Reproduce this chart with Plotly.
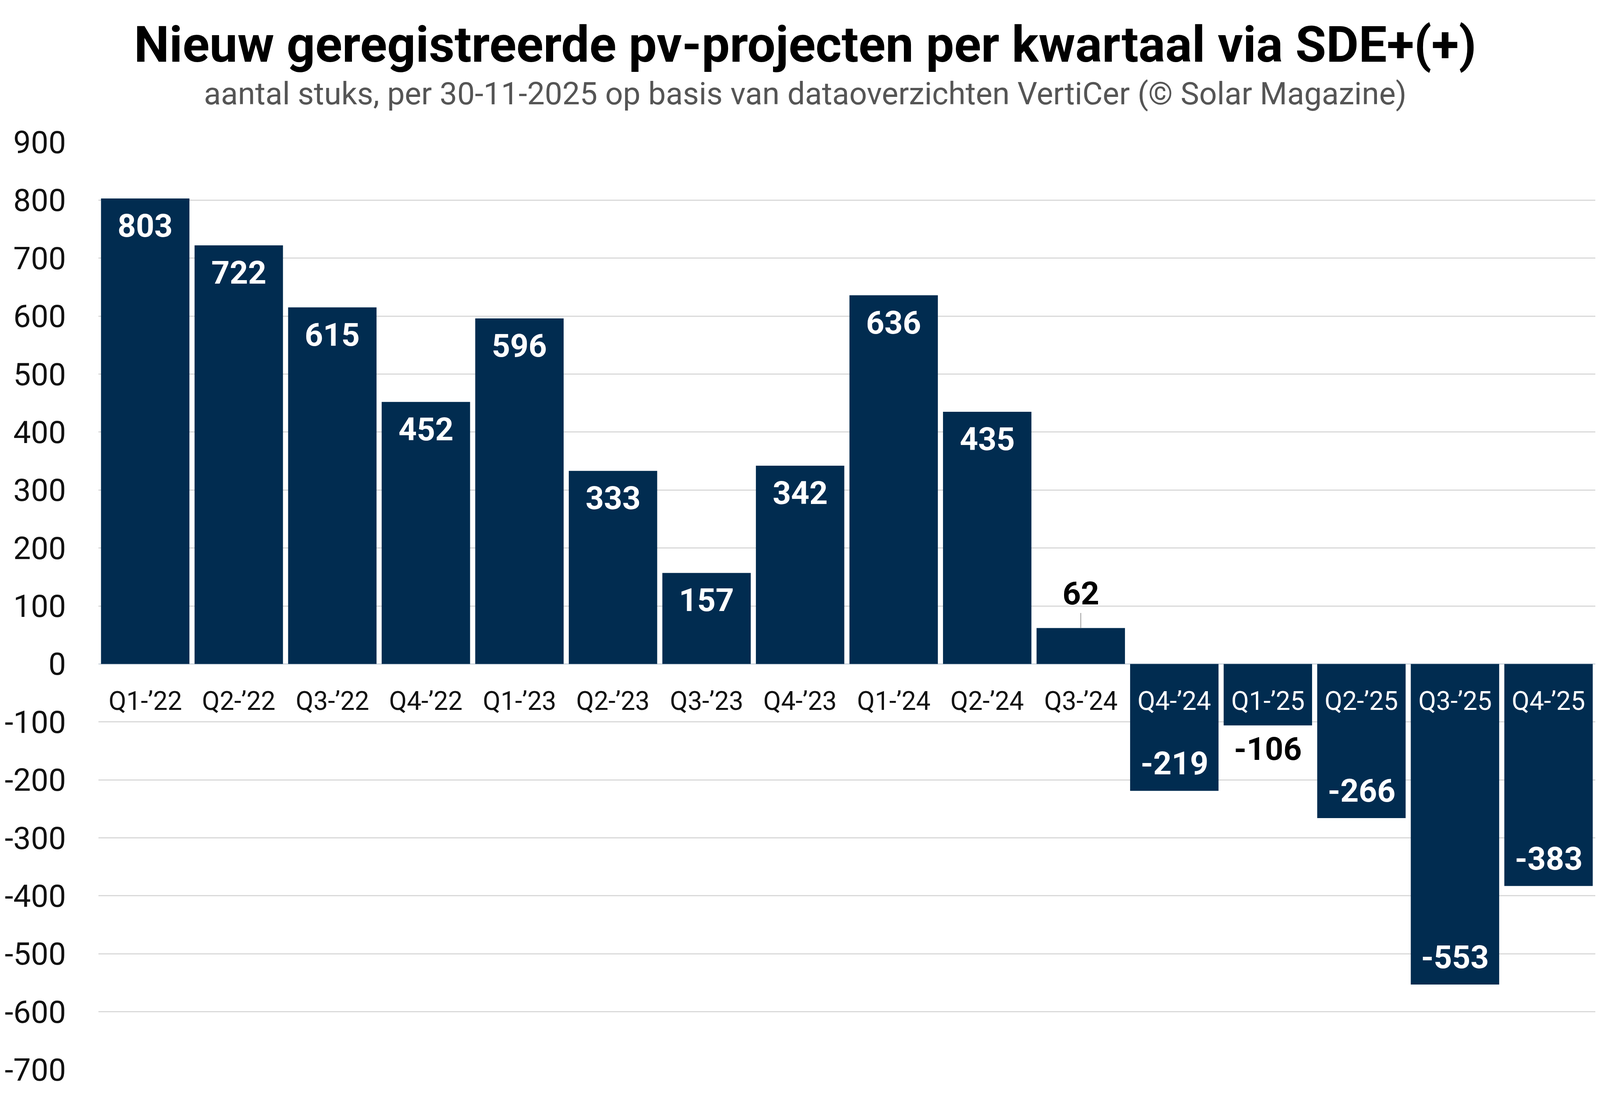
import plotly.graph_objects as go

categories = ["Q1-’22", "Q2-’22", "Q3-’22", "Q4-’22", "Q1-’23", "Q2-’23", "Q3-’23", "Q4-’23",
              "Q1-’24", "Q2-’24", "Q3-’24", "Q4-’24", "Q1-’25", "Q2-’25", "Q3-’25", "Q4-’25"]
values = [803, 722, 615, 452, 596, 333, 157, 342, 636, 435, 62, -219, -106, -266, -553, -383]
y_ticks = [900, 800, 700, 600, 500, 400, 300, 200, 100, 0, -100, -200, -300, -400, -500, -600, -700]

title = "Nieuw geregistreerde pv-projecten per kwartaal via SDE+(+)"
subtitle = "aantal stuks, per 30-11-2025 op basis van dataoverzichten VertiCer (© Solar Magazine)"

# the browser viewport is capped at 4096 px wide; lay the chart out to fill it
W, H = 4096, 2813
KX = W / 4962.0
M_L, M_R, M_T, M_B = round(275 * KX), round(15 * KX), 364, 75
PLOT_W = W - M_L - M_R
PLOT_H = H - M_T - M_B
BAR = "#012c50"
FONT = "Roboto"


def paper_y(px_from_top):
    return 1 + (M_T - px_from_top) / PLOT_H


def paper_x(px_from_left):
    return (px_from_left - M_L) / PLOT_W


fig = go.Figure(go.Bar(x=categories, y=values, marker=dict(color=BAR, line=dict(width=0)),
                       hoverinfo="x+y"))

annotations = []
# category labels along the zero line
for c, v in zip(categories, values):
    annotations.append(dict(x=c, y=0, xref="x", yref="y", text=c, showarrow=False,
                            yanchor="middle", yshift=-95,
                            font=dict(family=FONT, size=66, color="white" if v < 0 else "#111111")))

# value labels
for c, v in zip(categories, values):
    inside = abs(v) >= 150
    f = dict(family=FONT, size=82, color="white" if inside else "#000000", weight=700)
    txt = str(v)
    if inside:
        annotations.append(dict(x=c, y=v, xref="x", yref="y", text=txt, showarrow=False,
                                yanchor="middle", yshift=-70 if v > 0 else 70, font=f))
    elif v > 0:
        annotations.append(dict(x=c, y=v, xref="x", yref="y", text=txt, showarrow=True,
                                arrowhead=0, arrowwidth=2, arrowcolor="#999999",
                                ax=0, ay=-88, font=f))
    else:
        annotations.append(dict(x=c, y=v, xref="x", yref="y", text=txt, showarrow=False,
                                yanchor="middle", yshift=-60, font=f))

# title and subtitle, centred on the page
annotations.append(dict(x=paper_x(W / 2), y=paper_y(114), xref="paper", yref="paper", text=title,
                        showarrow=False, xanchor="center", yanchor="middle",
                        font=dict(family=FONT, size=128, color="#000000", weight=700)))
annotations.append(dict(x=paper_x(W / 2), y=paper_y(240), xref="paper", yref="paper", text=subtitle,
                        showarrow=False, xanchor="center", yanchor="middle",
                        font=dict(family=FONT, size=80, color="#555555")))

fig.update_layout(
    width=W, height=H,
    margin=dict(l=M_L, r=M_R, t=M_T, b=M_B, pad=0),
    paper_bgcolor="white", plot_bgcolor="white",
    bargap=0.055,
    showlegend=False,
    annotations=annotations,
    xaxis=dict(showticklabels=False, showgrid=False, zeroline=False, showline=False, ticks=""),
    yaxis=dict(range=[-700, 900], tickvals=y_ticks, ticktext=[str(t) for t in y_ticks],
               showgrid=True, gridcolor="#d9d9d9", gridwidth=3,
               zeroline=True, zerolinecolor="#d0d8e0", zerolinewidth=3,
               showline=False, ticks="outside", ticklen=round(80 * KX), tickcolor="rgba(0,0,0,0)",
               tickfont=dict(family=FONT, size=80, color="#111111")),
)

post = """
document.documentElement.style.margin='0';
document.body.style.margin='0';
document.documentElement.style.overflow='hidden';
document.body.style.overflow='hidden';
var gd = document.getElementById('{plot_id}');
var cw = document.documentElement.clientWidth, ch = document.documentElement.clientHeight;
var s = Math.min(cw / %d, ch / %d);
if (s > 0 && s < 0.998) {
  gd.style.transformOrigin = '0 0';
  gd.style.transform = 'scale(' + s + ')';
}
""" % (W, H)

fig.write_html("out.html", post_script=post, config={"displayModeBar": False})
